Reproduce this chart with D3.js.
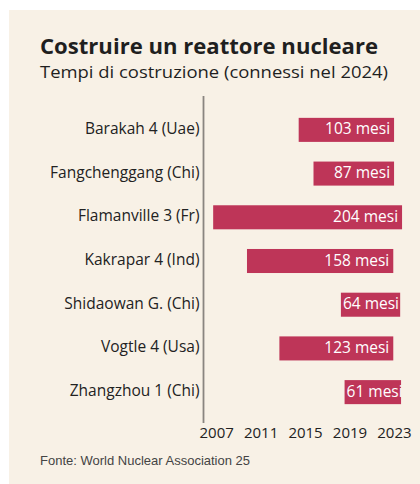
<!DOCTYPE html>
<html>
<head>
<meta charset="utf-8">
<script src="https://cdn.jsdelivr.net/npm/d3@7"></script>
<style>
  body { margin: 0; background: #ffffff; }
</style>
</head>
<body>
<div id="main"></div>
<script>
// impianti connessi alla rete nel 2024
var impianti = ["Barakah 4 (Uae)", "Fangchenggang (Chi)", "Flamanville 3 (Fr)", "Kakrapar 4 (Ind)",
                "Shidaowan G. (Chi)", "Vogtle 4 (Usa)", "Zhangzhou 1 (Chi)"]
var mesi = [103, 87, 204, 158, 64, 123, 61]
// data di connessione (anno decimale)
var connessione = [2024.15, 2024.15, 2024.87, 2024.08, 2024.7, 2024.08, 2024.78]
var anniTick = [2007, 2011, 2015, 2019, 2023]

var dimensions = {
  width: 420,
  height: 484,
  margin: { top: 96, bottom: 61, right: 16, left: 203.5 }
}
dimensions.boundedWidth = dimensions.width - dimensions.margin.left - dimensions.margin.right
dimensions.boundedHeight = dimensions.height - dimensions.margin.top - dimensions.margin.bottom

var font = "'Open Sans', 'Noto Sans', sans-serif"

var svg = d3.select("#main")
            .append("svg")
            .attr("width", dimensions.width)
            .attr("height", dimensions.height)

svg.append("rect")
   .attr("x", 9)
   .attr("y", 10)
   .attr("width", dimensions.width - 9)
   .attr("height", dimensions.height - 10)
   .attr("fill", "#f8f1e6")

svg.append("text")
   .attr("x", 40)
   .attr("y", 54)
   .attr("font-family", font)
   .attr("font-weight", "bold")
   .attr("font-size", 21)
   .attr("fill", "#1f1f1f")
   .attr("textLength", 338)
   .attr("lengthAdjust", "spacingAndGlyphs")
   .text("Costruire un reattore nucleare")

svg.append("text")
   .attr("x", 40)
   .attr("y", 78)
   .attr("font-family", font)
   .attr("font-size", 16.5)
   .attr("fill", "#1f1f1f")
   .attr("textLength", 348)
   .attr("lengthAdjust", "spacingAndGlyphs")
   .text("Tempi di costruzione (connessi nel 2024)")

var g = svg.append("g")
           .attr("transform", "translate(" + dimensions.margin.left + "," + dimensions.margin.top + ")")

var x = d3.scaleLinear()
          .domain([2007, 2025])
          .range([0, 200])

var y = d3.scaleBand()
          .domain(impianti)
          .range([0, 330])
          .paddingInner(0.45)
          .paddingOuter(0.5)

var dati = impianti.map(function(d, i) {
  return { nome: d, mesi: mesi[i], fine: connessione[i], inizio: connessione[i] - mesi[i] / 12 }
})

g.selectAll(".bar")
 .data(dati)
 .enter()
 .append("rect")
 .attr("class", "bar")
 .attr("x", function(d) { return x(d.inizio) })
 .attr("y", function(d) { return y(d.nome) })
 .attr("width", function(d) { return x(d.fine) - x(d.inizio) })
 .attr("height", y.bandwidth())
 .attr("fill", "#be3558")

g.selectAll(".val")
 .data(dati)
 .enter()
 .append("text")
 .attr("class", "val")
 .attr("y", function(d) { return y(d.nome) + y.bandwidth() / 2 + 4.5 })
 .attr("text-anchor", "start")
 .attr("font-family", font)
 .attr("font-size", 15.5)
 .attr("fill", "#ffffff")
 .text(function(d) { return d.mesi + " mesi" })
 .attr("x", function(d) {
   // se la barra e' corta il testo parte dall'inizio della barra
   var w = this.getComputedTextLength()
   return Math.max(x(d.fine) - 4 - w, x(d.inizio) + 2)
 })

g.selectAll(".nome")
 .data(dati)
 .enter()
 .append("text")
 .attr("class", "nome")
 .attr("x", -4)
 .attr("y", function(d) { return y(d.nome) + y.bandwidth() / 2 + 4 })
 .attr("text-anchor", "end")
 .attr("font-family", font)
 .attr("font-size", 15.5)
 .attr("fill", "#222222")
 .text(function(d) { return d.nome })

g.append("line")
 .attr("x1", 0)
 .attr("x2", 0)
 .attr("y1", 0)
 .attr("y2", 327)
 .attr("stroke", "#8a8580")
 .attr("stroke-width", 1.8)

g.selectAll(".anno")
 .data(anniTick)
 .enter()
 .append("text")
 .attr("class", "anno")
 .attr("x", function(d) { return x(d) - 4 })
 .attr("y", 342)
 .attr("font-family", font)
 .attr("font-size", 15)
 .attr("fill", "#222222")
 .text(function(d) { return d })

svg.append("text")
   .attr("x", 40)
   .attr("y", 465)
   .attr("font-family", "'Liberation Sans', Arial, sans-serif")
   .attr("font-size", 13)
   .attr("fill", "#444444")
   .text("Fonte: World Nuclear Association 25")
</script>
</body>
</html>
